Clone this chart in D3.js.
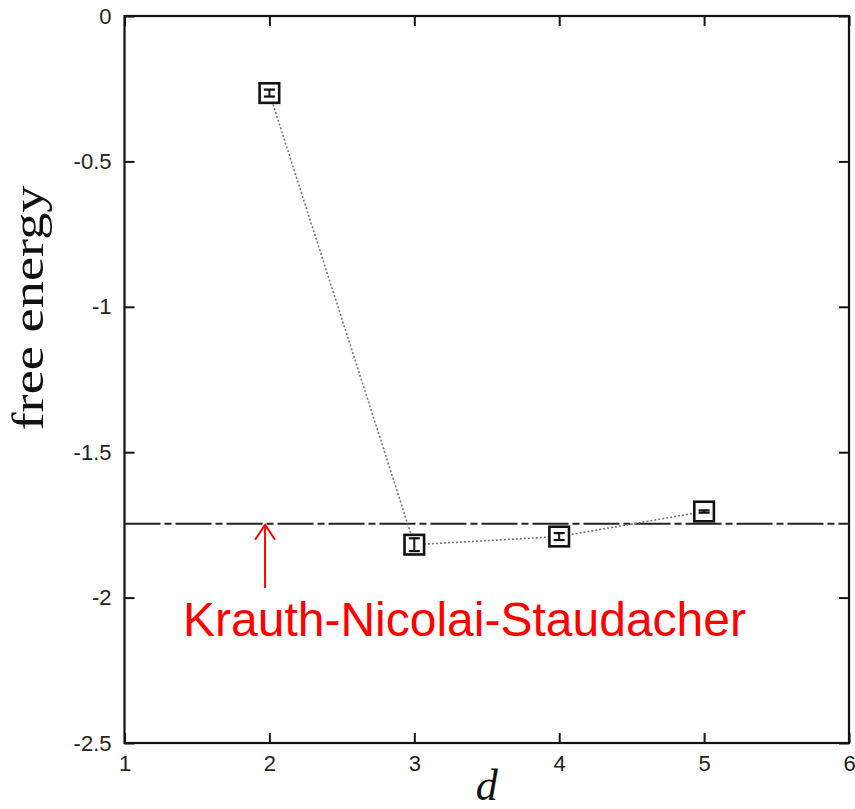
<!DOCTYPE html>
<html>
<head>
<meta charset="utf-8">
<script src="https://cdn.jsdelivr.net/npm/d3@7"></script>
<style>
  html, body { margin: 0; padding: 0; background: #fff; }
  svg { display: block; }
</style>
</head>
<body>
<svg id="chart" width="855" height="809"></svg>
<script>
// Free energy versus dimension d, with error bars
const dims = [2, 3, 4, 5];
const freeEnergy = [-0.265, -1.818, -1.790, -1.704];
const errors = [0.012, 0.022, 0.012, 0.004];
const knsValue = -1.746;
const knsLabel = "Krauth-Nicolai-Staudacher";
const xTicks = [1, 2, 3, 4, 5, 6];
const yTicks = [0, -0.5, -1, -1.5, -2, -2.5];

const svg = d3.select("#chart");
const plotLeft = 124.5, plotRight = 849, plotTop = 16, plotBottom = 743;

const x = d3.scaleLinear().domain([1, 6]).range([plotLeft, plotRight]);
const y = d3.scaleLinear().domain([-2.5, 0]).range([plotBottom, plotTop]);

const tickLen = 10;

// inward ticks on all four sides
svg.append("g").attr("transform", `translate(0,${plotBottom})`)
  .call(d3.axisBottom(x).tickValues(xTicks).tickSize(-tickLen).tickPadding(12).tickFormat(d3.format("d")))
  .call(g => g.select(".domain").remove());
svg.append("g").attr("transform", `translate(0,${plotTop})`)
  .call(d3.axisTop(x).tickValues(xTicks).tickSize(-tickLen).tickFormat(""))
  .call(g => g.select(".domain").remove());
svg.append("g").attr("transform", `translate(${plotLeft},0)`)
  .call(d3.axisLeft(y).tickValues(yTicks).tickSize(-tickLen).tickPadding(13).tickFormat(d => String(d)))
  .call(g => g.select(".domain").remove());
svg.append("g").attr("transform", `translate(${plotRight},0)`)
  .call(d3.axisRight(y).tickValues(yTicks).tickSize(-tickLen).tickFormat(""))
  .call(g => g.select(".domain").remove());

svg.selectAll(".tick line").attr("stroke", "#111").attr("stroke-width", 2);
svg.selectAll(".tick text")
  .attr("font-family", "Arial, 'Liberation Sans', sans-serif")
  .attr("font-size", 22).attr("fill", "#222");

// frame
svg.append("rect")
  .attr("x", plotLeft).attr("y", plotTop)
  .attr("width", plotRight - plotLeft).attr("height", plotBottom - plotTop)
  .attr("fill", "none").attr("stroke", "#111").attr("stroke-width", 2.2);

// reference value line
svg.append("line")
  .attr("x1", plotLeft).attr("x2", plotRight)
  .attr("y1", y(knsValue)).attr("y2", y(knsValue))
  .attr("stroke", "#222").attr("stroke-width", 2)
  .attr("stroke-dasharray", "36,4,7,4");

// connecting dotted line
const pts = dims.map((d, i) => ({ d, v: freeEnergy[i], e: errors[i] }));
svg.append("path")
  .datum(pts)
  .attr("d", d3.line().x(p => x(p.d)).y(p => y(p.v)))
  .attr("fill", "none").attr("stroke", "#777").attr("stroke-width", 1.6)
  .attr("stroke-dasharray", "2,2");

// square markers with error bars
const half = 9.8;
const mk = svg.append("g").selectAll("g").data(pts).join("g")
  .attr("transform", p => `translate(${x(p.d)},${y(p.v)})`);
mk.append("rect")
  .attr("x", -half).attr("y", -half).attr("width", 2 * half).attr("height", 2 * half)
  .attr("fill", "#fff").attr("stroke", "#111").attr("stroke-width", 2.6);
mk.append("line")
  .attr("x1", 0).attr("x2", 0)
  .attr("y1", p => y(p.v + p.e) - y(p.v)).attr("y2", p => y(p.v - p.e) - y(p.v))
  .attr("stroke", "#111").attr("stroke-width", 2);
mk.selectAll(".cap").data(p => [p.e, -p.e].map(e => ({ p, e }))).join("line")
  .attr("class", "cap")
  .attr("x1", -5.5).attr("x2", 5.5)
  .attr("y1", c => y(c.p.v + c.e) - y(c.p.v)).attr("y2", c => y(c.p.v + c.e) - y(c.p.v))
  .attr("stroke", "#111").attr("stroke-width", 2.2);

// annotation arrow and label
const arrowX = x(1.97);
const yKns = y(knsValue);
svg.append("line")
  .attr("x1", arrowX).attr("x2", arrowX)
  .attr("y1", 588).attr("y2", yKns + 1)
  .attr("stroke", "#ff0000").attr("stroke-width", 2);
svg.append("path")
  .attr("d", `M${arrowX - 10},${yKns + 16} L${arrowX},${yKns + 1} L${arrowX + 10},${yKns + 16}`)
  .attr("fill", "none").attr("stroke", "#ff0000").attr("stroke-width", 2);
svg.append("text")
  .attr("x", 183).attr("y", 636)
  .attr("font-family", "Arial, 'Liberation Sans', sans-serif")
  .attr("font-size", 48).attr("fill", "#ff0000")
  .text(knsLabel);

// axis titles
svg.append("text")
  .attr("transform", "translate(43,308) rotate(-90)")
  .attr("text-anchor", "middle")
  .attr("font-family", "'Times New Roman', 'Liberation Serif', serif")
  .attr("font-size", 44).attr("fill", "#111")
  .attr("textLength", 245).attr("lengthAdjust", "spacingAndGlyphs")
  .text("free energy");
svg.append("text")
  .attr("x", x(3.5)).attr("y", 800)
  .attr("text-anchor", "middle")
  .attr("font-family", "'Times New Roman', 'Liberation Serif', serif")
  .attr("font-style", "italic")
  .attr("font-size", 44).attr("fill", "#111")
  .text("d");
</script>
</body>
</html>
